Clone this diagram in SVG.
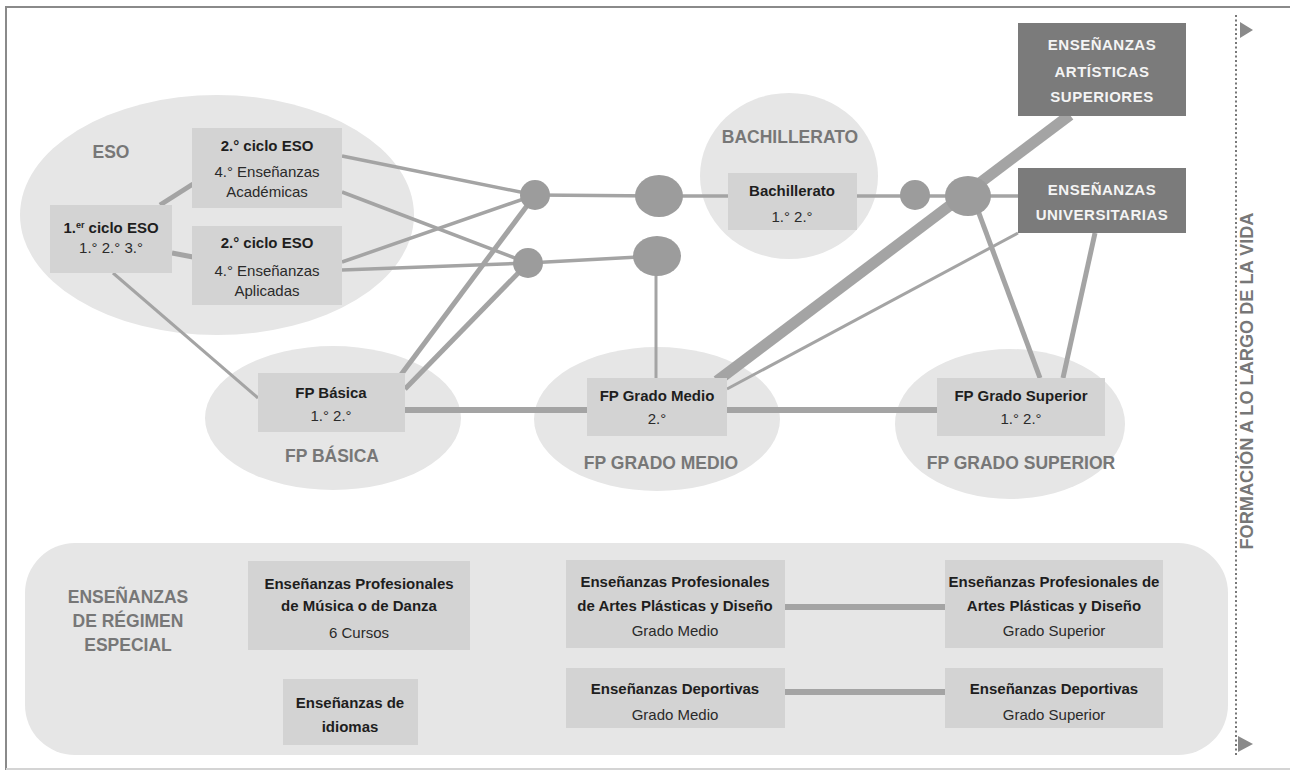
<svg xmlns="http://www.w3.org/2000/svg" width="1305" height="770" viewBox="0 0 1305 770">
<defs>
<style>
.area{fill:#e6e6e6}
.box{fill:#d3d3d3}
.dark{fill:#7b7b7b}
.dot{fill:#9c9c9c}
.t{font-family:"Liberation Sans",Arial,sans-serif;font-size:15px;fill:#2a2a2a;text-anchor:middle}
.b{font-weight:bold;fill:#1e1e1e}
.lab{font-family:"Liberation Sans",Arial,sans-serif;font-size:17.5px;font-weight:bold;fill:#777;text-anchor:middle}
.wt{font-family:"Liberation Sans",Arial,sans-serif;font-size:15px;font-weight:bold;fill:#f4f4f4;text-anchor:middle;letter-spacing:0.5px}
#connectors line{stroke:#a4a4a4;stroke-linecap:butt}
</style>
</defs>
<rect width="1305" height="770" fill="#fff"/>
<path d="M6,770 V7 H1290" fill="none" stroke="#8a8a8a" stroke-width="2"/>
<line x1="6" y1="769" x2="1290" y2="769" stroke="#d4d4d4" stroke-width="2"/>

<g id="eso-area"><ellipse class="area" cx="217" cy="215" rx="197" ry="120"/><text class="lab" x="111" y="158">ESO</text></g>
<g id="bach-area"><ellipse class="area" cx="789" cy="176" rx="89" ry="83"/><text class="lab" x="790" y="143">BACHILLERATO</text></g>
<g id="fpb-area"><ellipse class="area" cx="333" cy="418" rx="128" ry="72"/><text class="lab" x="332" y="462">FP BÁSICA</text></g>
<g id="fpgm-area"><ellipse class="area" cx="657" cy="419" rx="123" ry="72"/><text class="lab" x="661" y="469">FP GRADO MEDIO</text></g>
<g id="fpgs-area"><ellipse class="area" cx="1010" cy="424" rx="115" ry="75"/><text class="lab" x="1021" y="469">FP GRADO SUPERIOR</text></g>
<g id="especial-area"><rect class="area" x="25" y="543" width="1203" height="212" rx="50"/>
<text class="lab" font-size="18" x="128" y="603">ENSEÑANZAS</text><text class="lab" font-size="18" x="128" y="627">DE RÉGIMEN</text><text class="lab" font-size="18" x="128" y="651">ESPECIAL</text></g>

<g id="connectors">
<line x1="160" y1="205" x2="193" y2="184" stroke-width="5"/>
<line x1="172" y1="253" x2="193" y2="257" stroke-width="5"/>
<line x1="113" y1="273" x2="258" y2="398" stroke-width="3"/>
<line x1="342" y1="156" x2="535" y2="195" stroke-width="3.5"/>
<line x1="342" y1="192" x2="528" y2="263" stroke-width="3.5"/>
<line x1="342" y1="262" x2="535" y2="195" stroke-width="3.5"/>
<line x1="342" y1="270" x2="528" y2="263" stroke-width="3.5"/>
<line x1="400" y1="376" x2="535" y2="195" stroke-width="5"/>
<line x1="405" y1="389" x2="528" y2="263" stroke-width="5"/>
<line x1="535" y1="195" x2="659" y2="196" stroke-width="3.5"/>
<line x1="528" y1="263" x2="657" y2="256" stroke-width="3.5"/>
<line x1="659" y1="196" x2="728" y2="196" stroke-width="3.5"/>
<line x1="656" y1="256" x2="656" y2="378" stroke-width="3"/>
<line x1="405" y1="410" x2="587" y2="410" stroke-width="6"/>
<line x1="727" y1="410" x2="937" y2="410" stroke-width="6"/>
<line x1="857" y1="196" x2="1018" y2="196" stroke-width="3.5"/>
<line x1="717" y1="381" x2="1070" y2="115" stroke-width="11"/>
<line x1="727" y1="389" x2="1018" y2="233" stroke-width="3"/>
<line x1="977" y1="208" x2="1040" y2="378" stroke-width="5"/>
<line x1="1095" y1="233" x2="1063" y2="378" stroke-width="5"/>
<line x1="785" y1="607" x2="945" y2="607" stroke-width="6"/>
<line x1="785" y1="692" x2="945" y2="692" stroke-width="6"/>
</g>

<g id="dot1"><circle class="dot" cx="535" cy="195" r="15"/></g>
<g id="dot2"><circle class="dot" cx="528" cy="263" r="15"/></g>
<g id="node1"><ellipse class="dot" cx="659" cy="196" rx="24" ry="21"/></g>
<g id="node2"><ellipse class="dot" cx="657" cy="256" rx="24" ry="20"/></g>
<g id="dot3"><circle class="dot" cx="915" cy="195" r="15"/></g>
<g id="node3"><ellipse class="dot" cx="968" cy="196" rx="23" ry="20"/></g>

<g id="eso1"><rect class="box" x="50" y="205" width="122" height="68"/>
<text class="t b" x="111" y="233">1.<tspan font-size="9" dy="-5">er</tspan><tspan dy="5"> ciclo ESO</tspan></text>
<text class="t" x="111" y="253">1.° 2.° 3.°</text></g>
<g id="eso2a"><rect class="box" x="192" y="128" width="150" height="80"/>
<text class="t b" x="267" y="151">2.° ciclo ESO</text>
<text class="t" x="267" y="177">4.° Enseñanzas</text>
<text class="t" x="267" y="197">Académicas</text></g>
<g id="eso2b"><rect class="box" x="192" y="226" width="150" height="79"/>
<text class="t b" x="267" y="248">2.° ciclo ESO</text>
<text class="t" x="267" y="276">4.° Enseñanzas</text>
<text class="t" x="267" y="296">Aplicadas</text></g>
<g id="bach"><rect class="box" x="728" y="173" width="129" height="57"/>
<text class="t b" x="792" y="196">Bachillerato</text>
<text class="t" x="792" y="222">1.° 2.°</text></g>
<g id="fpb"><rect class="box" x="258" y="373" width="147" height="59"/>
<text class="t b" x="331" y="398">FP Básica</text>
<text class="t" x="331" y="421">1.° 2.°</text></g>
<g id="fpgm"><rect class="box" x="587" y="378" width="140" height="58"/>
<text class="t b" x="657" y="401">FP Grado Medio</text>
<text class="t" x="657" y="424">2.°</text></g>
<g id="fpgs"><rect class="box" x="937" y="378" width="168" height="58"/>
<text class="t b" x="1021" y="401">FP Grado Superior</text>
<text class="t" x="1021" y="424">1.° 2.°</text></g>
<g id="artisticas"><rect class="dark" x="1018" y="23" width="168" height="93"/>
<text class="wt" x="1102" y="50">ENSEÑANZAS</text>
<text class="wt" x="1102" y="77">ARTÍSTICAS</text>
<text class="wt" x="1102" y="102">SUPERIORES</text></g>
<g id="universitarias"><rect class="dark" x="1018" y="168" width="168" height="65"/>
<text class="wt" x="1102" y="195">ENSEÑANZAS</text>
<text class="wt" x="1102" y="220">UNIVERSITARIAS</text></g>

<g id="musica"><rect class="box" x="248" y="561" width="222" height="89"/>
<text class="t b" x="359" y="589">Enseñanzas Profesionales</text>
<text class="t b" x="359" y="611">de Música o de Danza</text>
<text class="t" x="359" y="638">6 Cursos</text></g>
<g id="idiomas"><rect class="box" x="283" y="679" width="135" height="66"/>
<text class="t b" x="350" y="708">Enseñanzas de</text>
<text class="t b" x="350" y="732">idiomas</text></g>
<g id="artes-gm"><rect class="box" x="566" y="560" width="219" height="88"/>
<text class="t b" x="675" y="587">Enseñanzas Profesionales</text>
<text class="t b" x="675" y="611">de Artes Plásticas y Diseño</text>
<text class="t" x="675" y="636">Grado Medio</text></g>
<g id="artes-gs"><rect class="box" x="945" y="560" width="218" height="88"/>
<text class="t b" x="1054" y="587">Enseñanzas Profesionales de</text>
<text class="t b" x="1054" y="611">Artes Plásticas y Diseño</text>
<text class="t" x="1054" y="636">Grado Superior</text></g>
<g id="deportivas-gm"><rect class="box" x="566" y="668" width="219" height="60"/>
<text class="t b" x="675" y="694">Enseñanzas Deportivas</text>
<text class="t" x="675" y="720">Grado Medio</text></g>
<g id="deportivas-gs"><rect class="box" x="945" y="668" width="218" height="60"/>
<text class="t b" x="1054" y="694">Enseñanzas Deportivas</text>
<text class="t" x="1054" y="720">Grado Superior</text></g>

<g id="vida">
<line x1="1236" y1="15" x2="1236" y2="757" stroke="#777" stroke-width="2" stroke-dasharray="2 2.5"/>
<polygon points="1240,22 1253,30 1240,38" fill="#8a8a8a"/>
<polygon points="1238,736 1253,744 1238,752" fill="#8a8a8a"/>
<text class="lab" font-size="16" transform="translate(1253,381) rotate(-90)" textLength="337" lengthAdjust="spacingAndGlyphs">FORMACIÓN A LO LARGO DE LA VIDA</text>
</g>
</svg>
